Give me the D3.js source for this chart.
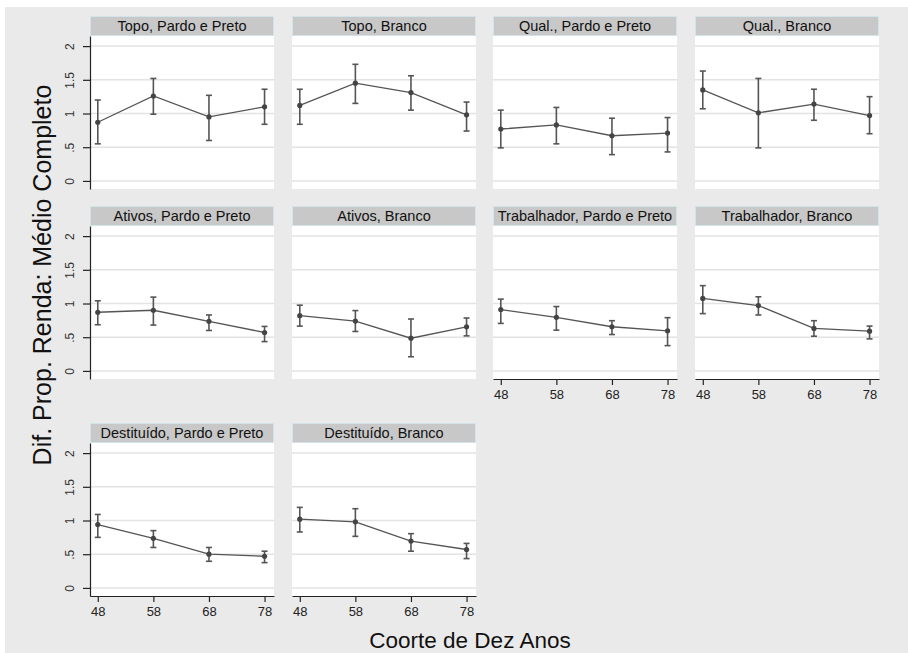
<!DOCTYPE html>
<html>
<head>
<meta charset="utf-8">
<script src="https://cdn.jsdelivr.net/npm/d3@7"></script>
<style>
  body { margin: 0; background: #fff; }
  svg { display: block; font-family: "Liberation Sans", Arial, sans-serif; }
</style>
</head>
<body>
<div id="chart"></div>
<script>
// cohort (x) values
const cohorts = [48, 58, 68, 78];

const panelTitles = [
  "Topo, Pardo e Preto", "Topo, Branco", "Qual., Pardo e Preto", "Qual., Branco",
  "Ativos, Pardo e Preto", "Ativos, Branco", "Trabalhador, Pardo e Preto", "Trabalhador, Branco",
  "Destituído, Pardo e Preto", "Destituído, Branco"
];

// point estimates per panel
const estimates = [
  [0.87, 1.26, 0.95, 1.10],
  [1.12, 1.45, 1.31, 0.98],
  [0.77, 0.83, 0.67, 0.71],
  [1.35, 1.01, 1.14, 0.97],
  [0.87, 0.90, 0.735, 0.57],
  [0.82, 0.74, 0.485, 0.655],
  [0.91, 0.795, 0.655, 0.595],
  [1.075, 0.97, 0.63, 0.59],
  [0.94, 0.735, 0.50, 0.47],
  [1.02, 0.98, 0.695, 0.57]
];

// confidence interval bounds
const lowerCI = [
  [0.55, 0.99, 0.60, 0.84],
  [0.84, 1.15, 1.05, 0.74],
  [0.49, 0.55, 0.39, 0.43],
  [1.07, 0.49, 0.90, 0.70],
  [0.685, 0.68, 0.60, 0.435],
  [0.665, 0.585, 0.21, 0.52],
  [0.705, 0.605, 0.54, 0.375],
  [0.85, 0.83, 0.515, 0.475],
  [0.75, 0.60, 0.395, 0.375],
  [0.83, 0.765, 0.545, 0.435]
];
const upperCI = [
  [1.20, 1.52, 1.27, 1.36],
  [1.36, 1.73, 1.56, 1.17],
  [1.05, 1.09, 0.93, 0.94],
  [1.63, 1.52, 1.36, 1.25],
  [1.04, 1.095, 0.83, 0.66],
  [0.975, 0.895, 0.77, 0.785],
  [1.065, 0.955, 0.745, 0.79],
  [1.265, 1.10, 0.745, 0.665],
  [1.09, 0.85, 0.60, 0.545],
  [1.195, 1.175, 0.805, 0.66]
];

const yTicks = [0, 0.5, 1, 1.5, 2];

const width = 908;
const height = 653;
const colLeft = [90, 292, 493, 695];
const rowTop = [16, 206, 423];
const panelW = 184;
const headerH = 20;
const plotH = 153;
const lineColor = "#555";

const svg = d3.select("#chart").append("svg")
  .attr("width", width)
  .attr("height", height);

// outer background
svg.append("rect").attr("width", width).attr("height", height).attr("fill", "#fff");
svg.append("rect").attr("x", 5).attr("y", 7).attr("width", width - 5).attr("height", height - 7)
  .attr("fill", "#eaeaea");

const xScale = d3.scaleLinear().domain([46.6, 79.7]).range([0, panelW]);
const yScale = d3.scaleLinear().domain([-0.12, 2.15]).range([plotH, 0]);

const fmtY = (d) => d === 0.5 ? ".5" : d === 1.5 ? "1.5" : String(d);

panelTitles.forEach((title, i) => {
  const row = Math.floor(i / 4);
  const col = i % 4;
  const g = svg.append("g")
    .attr("transform", `translate(${colLeft[col]},${rowTop[row] + headerH})`);

  // header strip
  svg.append("rect")
    .attr("x", colLeft[col] + 0.5).attr("y", rowTop[row] + 0.5)
    .attr("width", panelW - 1).attr("height", headerH - 1)
    .attr("fill", "#c8c8c8").attr("stroke", "#d3e3ea");
  svg.append("text")
    .attr("x", colLeft[col] + panelW / 2).attr("y", rowTop[row] + 15)
    .attr("text-anchor", "middle").attr("font-size", 14.5).attr("fill", "#111")
    .text(title);

  // plot area
  g.append("rect").attr("width", panelW).attr("height", plotH).attr("fill", "#fff");

  // gridlines
  g.append("g").selectAll("line").data(yTicks).join("line")
    .attr("x1", 0).attr("x2", panelW)
    .attr("y1", (d) => yScale(d)).attr("y2", (d) => yScale(d))
    .attr("stroke", "#e4e2e2").attr("stroke-width", 1.5);

  // y axis on first column
  if (col === 0) {
    const ya = g.append("g")
      .call(d3.axisLeft(yScale).tickValues(yTicks).tickFormat(fmtY).tickSize(7).tickSizeOuter(0));
    ya.select(".domain").attr("stroke", "#222").attr("stroke-width", 1.2);
    ya.selectAll(".tick line").attr("stroke", "#222").attr("stroke-width", 1.2);
    ya.selectAll(".tick text")
      .attr("font-family", "Liberation Sans, Arial, sans-serif")
      .attr("font-size", 12).attr("fill", "#333")
      .attr("text-anchor", "middle")
      .attr("transform", "rotate(-90)")
      .attr("x", 0).attr("y", -16).attr("dy", 0);
  }

  // x axis on bottom panel of each column
  if (row === 2 || (row === 1 && col >= 2)) {
    const xa = g.append("g").attr("transform", `translate(0,${plotH})`)
      .call(d3.axisBottom(xScale).tickValues(cohorts).tickFormat(d3.format("d")).tickSize(6).tickPadding(5).tickSizeOuter(0));
    xa.select(".domain").attr("stroke", "#222").attr("stroke-width", 1.2);
    xa.selectAll(".tick line").attr("stroke", "#222").attr("stroke-width", 1.2);
    xa.selectAll(".tick text")
      .attr("font-family", "Liberation Sans, Arial, sans-serif")
      .attr("font-size", 13).attr("fill", "#222");
  }

  const pts = cohorts.map((c, j) => ({
    x: c, y: estimates[i][j], lo: lowerCI[i][j], hi: upperCI[i][j]
  }));

  // connecting line
  g.append("path").datum(pts)
    .attr("fill", "none").attr("stroke", lineColor).attr("stroke-width", 1.3)
    .attr("d", d3.line().x((d) => xScale(d.x)).y((d) => yScale(d.y)));

  // error bars
  const eb = g.append("g").attr("stroke", lineColor).attr("stroke-width", 1.6);
  eb.selectAll(".v").data(pts).join("line").attr("class", "v")
    .attr("x1", (d) => xScale(d.x)).attr("x2", (d) => xScale(d.x))
    .attr("y1", (d) => yScale(d.lo)).attr("y2", (d) => yScale(d.hi));
  eb.selectAll(".capHi").data(pts).join("line").attr("class", "capHi")
    .attr("x1", (d) => xScale(d.x) - 3).attr("x2", (d) => xScale(d.x) + 3)
    .attr("y1", (d) => yScale(d.hi)).attr("y2", (d) => yScale(d.hi));
  eb.selectAll(".capLo").data(pts).join("line").attr("class", "capLo")
    .attr("x1", (d) => xScale(d.x) - 3).attr("x2", (d) => xScale(d.x) + 3)
    .attr("y1", (d) => yScale(d.lo)).attr("y2", (d) => yScale(d.lo));

  // markers
  g.append("g").selectAll("circle").data(pts).join("circle")
    .attr("cx", (d) => xScale(d.x)).attr("cy", (d) => yScale(d.y))
    .attr("r", 2.6).attr("fill", "#444");
});

// axis titles
svg.append("text")
  .attr("transform", "translate(42,275) rotate(-90)")
  .attr("dy", "0.35em")
  .attr("text-anchor", "middle").attr("font-size", 25).attr("fill", "#111")
  .text("Dif. Prop. Renda: Médio Completo");

svg.append("text")
  .attr("x", 470).attr("y", 648)
  .attr("text-anchor", "middle").attr("font-size", 22.5).attr("fill", "#111")
  .text("Coorte de Dez Anos");
</script>
</body>
</html>
